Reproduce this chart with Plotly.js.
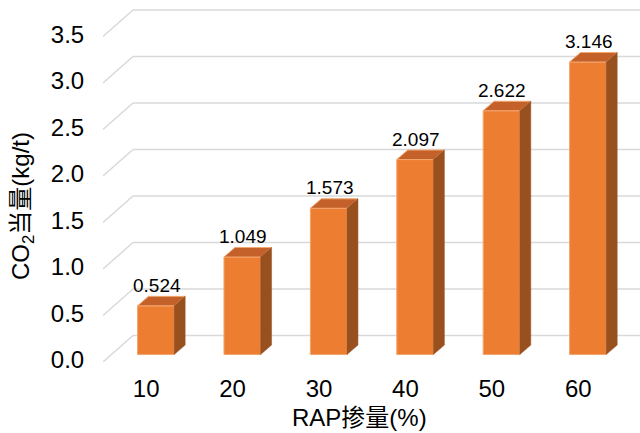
<!DOCTYPE html>
<html>
<head>
<meta charset="utf-8">
<script src="https://cdn.plot.ly/plotly-3.0.1.min.js"></script>
<style>html,body{margin:0;padding:0;background:#fff;}</style>
</head>
<body>
<div id="chart" style="width:640px;height:433px;"></div>
<script>
// RAP content (%) vs CO2 equivalent (kg/t)
const categories = ['10', '20', '30', '40', '50', '60'];
const values = [0.524, 1.049, 1.573, 2.097, 2.622, 3.146];
const yTickVals = [0, 0.5, 1.0, 1.5, 2.0, 2.5, 3.0, 3.5];
const yTickText = ['0.0', '0.5', '1.0', '1.5', '2.0', '2.5', '3.0', '3.5'];

// Oblique "3-D column" look, expressed in axis units
const wallDX = 0.347, wallDY = 0.285;      // depth of the side wall / floor
const barShift = 0.112, barWidth = 0.424;  // front face of each column
const barLift = 0.08;                      // columns stand a little behind the front edge
const barDX = 0.127, barDY = 0.102;        // depth of each column

const FRONT = '#ED7D31', TOP = '#C4612A', SIDE = '#99501F', EDGE = '#F3A66E';
const GRID = '#D9D9D9';
const FONT = 'Arial, "Liberation Sans", "Noto Sans CJK SC", sans-serif';

const shapes = [];
// side wall diagonals and back wall gridlines
yTickVals.forEach(v => {
  shapes.push({type: 'line', xref: 'x', yref: 'y', layer: 'below',
    x0: -0.5, y0: v, x1: -0.5 + wallDX, y1: v + wallDY,
    line: {color: GRID, width: 1.5}});
  shapes.push({type: 'line', xref: 'x', yref: 'y', layer: 'below',
    x0: -0.5 + wallDX, y0: v + wallDY, x1: 7, y1: v + wallDY,
    line: {color: GRID, width: 1.5}});
});

// top and side faces of the columns
values.forEach((v, i) => {
  const L = i + barShift - barWidth / 2, R = L + barWidth;
  const B = barLift, T = barLift + v;
  shapes.push({type: 'path', xref: 'x', yref: 'y', layer: 'above',
    path: `M${L},${T} L${R},${T} L${R + barDX},${T + barDY} L${L + barDX},${T + barDY} Z`,
    fillcolor: TOP, line: {color: EDGE, width: 1}});
  shapes.push({type: 'path', xref: 'x', yref: 'y', layer: 'above',
    path: `M${R},${T} L${R + barDX},${T + barDY} L${R + barDX},${B + barDY} L${R},${B} Z`,
    fillcolor: SIDE, line: {color: SIDE, width: 0.5}});
});

// value labels above each column
const annotations = values.map((v, i) => ({
  xref: 'x', yref: 'y', x: i + barShift + 0.01, y: barLift + v + barDY,
  text: v.toFixed(3), showarrow: false, xanchor: 'center', yanchor: 'middle',
  yshift: 11, font: {family: FONT, size: 19, color: '#000'}
}));

// axis titles
annotations.push({xref: 'paper', yref: 'paper', x: (359 - 103) / 537, y: (362 - 418) / 357,
  text: 'RAP掺量(%)', showarrow: false, xanchor: 'center', yanchor: 'middle',
  font: {family: FONT, size: 24, color: '#000'}});
annotations.push({xref: 'paper', yref: 'paper', x: (22 - 103) / 537, y: (362 - 206) / 357,
  text: 'CO<sub>2</sub>当量(kg/t)', showarrow: false, textangle: -90,
  xanchor: 'center', yanchor: 'middle',
  font: {family: FONT, size: 24, color: '#000'}});

const trace = {
  type: 'bar', x: categories, y: values, base: barLift,
  offset: barShift - barWidth / 2, width: barWidth,
  marker: {color: FRONT, line: {color: EDGE, width: 1}},
  hoverinfo: 'skip'
};

const layout = {
  width: 640, height: 433,
  margin: {l: 103, r: 0, t: 5, b: 71},
  paper_bgcolor: '#ffffff', plot_bgcolor: 'rgba(0,0,0,0)',
  font: {family: FONT, size: 24, color: '#000'},
  showlegend: false,
  xaxis: {type: 'category', range: [-0.5, 5.715], showgrid: false, zeroline: false,
    showline: false, ticks: 'outside', ticklen: 5, tickcolor: 'rgba(0,0,0,0)',
    tickfont: {family: FONT, size: 24, color: '#000'}, fixedrange: true},
  yaxis: {range: [0, 3.839], tickmode: 'array', tickvals: yTickVals, ticktext: yTickText,
    showgrid: false, zeroline: false, showline: false, ticks: 'outside', ticklen: 13,
    tickcolor: 'rgba(0,0,0,0)', tickfont: {family: FONT, size: 24, color: '#000'},
    ticklabelshift: -2, fixedrange: true},
  shapes: shapes,
  annotations: annotations
};

Plotly.newPlot('chart', [trace], layout, {displayModeBar: false, staticPlot: true});
</script>
</body>
</html>
